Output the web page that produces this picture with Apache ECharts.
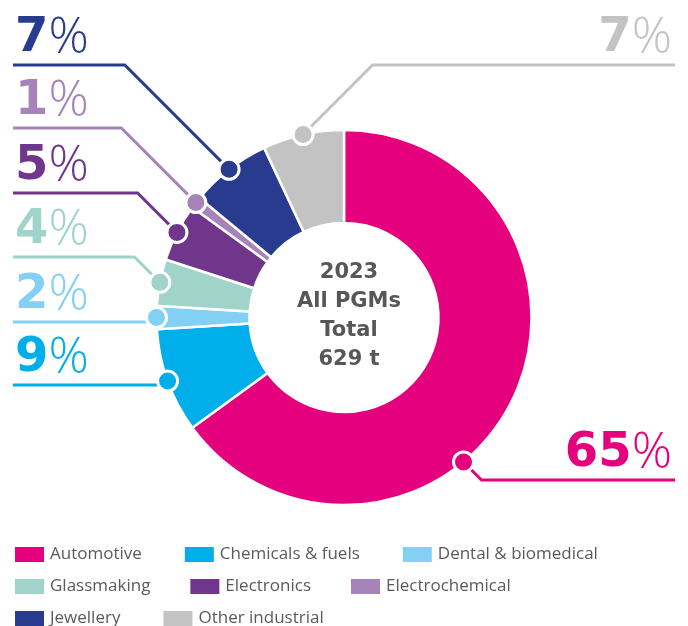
<!DOCTYPE html>
<html>
<head>
<meta charset="utf-8">
<script src="https://cdn.jsdelivr.net/npm/echarts@6/dist/echarts.min.js"></script>
<style>
html, body { margin: 0; padding: 0; background: #fff; }
#pgm-chart { width: 688px; height: 626px; }
</style>
</head>
<body>
<div id="pgm-chart"></div>
<script>
// 2023 PGM demand by application
var categories = ['Automotive', 'Chemicals & fuels', 'Dental & biomedical', 'Glassmaking',
	'Electronics', 'Electrochemical', 'Jewellery', 'Other industrial'];
var shares = [65, 9, 2, 4, 5, 1, 7, 7];
var colors = ['#e5007d', '#00aee9', '#83d0f5', '#a0d4cb', '#6f368b', '#a684ba', '#283b8f', '#c3c3c3'];
var centerLines = ['2023', 'All PGMs', 'Total', '629 t'];

// layout
var CX = 344, CY = 317.5, R_IN = 94.5, R_OUT = 187.5;
var lineY = [480, 385, 322, 257, 193, 128, 65, 65];
var side = ['right', 'left', 'left', 'left', 'left', 'left', 'left', 'right'];
var dotFrac = [0.6, 0.5, 0.5, 0.5, 0.5, 0.5, 0.5, 0.5];
var LEFT_X = 13, RIGHT_X = 675;

var total = shares.reduce(function (a, b) { return a + b; }, 0);

function anchorPct(i) {
	var before = 0;
	for (var k = 0; k < i; k++) before += shares[k];
	return (before + shares[i] * dotFrac[i]) / total * 100;
}

function anchorXY(i) {
	var a = anchorPct(i) / 100 * Math.PI * 2;
	return [CX + R_OUT * Math.sin(a), CY - R_OUT * Math.cos(a)];
}

var rich = {};
colors.forEach(function (c, i) {
	rich['d' + i] = { fontFamily: 'DejaVu Sans', fontSize: 48, fontWeight: 'bold', color: c };
	rich['p' + i] = { fontFamily: 'Open Sans', fontSize: 50, fontWeight: 300, color: c };
});

var pieData = categories.map(function (name, i) {
	return { name: name, value: shares[i], itemStyle: { color: colors[i] } };
});

var dotData = categories.map(function (name, i) {
	return { name: name, value: [1, anchorPct(i)], itemStyle: { color: colors[i] } };
});

function legendRow(names, top, gap) {
	return {
		data: names,
		left: 13,
		top: top,
		padding: 0,
		icon: 'rect',
		itemWidth: 31,
		itemHeight: 17,
		itemGap: gap,
		selectedMode: false,
		textStyle: { fontFamily: 'Open Sans', fontSize: 17, color: '#5a5a5a' }
	};
}

var chart = echarts.init(document.getElementById('pgm-chart'));
var option = {
	animation: false,
	title: {
		text: centerLines.join('\n'),
		left: CX,
		top: 253,
		textAlign: 'center',
		textStyle: { fontFamily: 'DejaVu Sans', fontSize: 21, fontWeight: 'bold', color: '#575757', lineHeight: 29 }
	},
	legend: [
		legendRow(categories.slice(0, 3), 545, 41),
		legendRow(categories.slice(3, 6), 577, 38),
		legendRow(categories.slice(6, 8), 609, 41)
	],
	polar: { center: [CX, CY], radius: R_OUT },
	angleAxis: { type: 'value', min: 0, max: 100, startAngle: 90, clockwise: true, show: false },
	radiusAxis: { type: 'value', min: 0, max: 1, show: false },
	series: [
		{
			name: 'PGM demand',
			type: 'pie',
			center: [CX, CY],
			radius: [R_IN, R_OUT],
			startAngle: 90,
			avoidLabelOverlap: false,
			silent: true,
			itemStyle: { borderColor: '#fff', borderWidth: 2.5 },
			label: {
				show: true,
				position: 'outside',
				formatter: function (p) {
					return '{d' + p.dataIndex + '|' + p.value + '}{p' + p.dataIndex + '|%}';
				},
				rich: rich
			},
			labelLine: { show: true, length: 10, length2: 10, smooth: false, lineStyle: { width: 3 } },
			labelLayout: function (params) {
				var i = params.dataIndex;
				var d = anchorXY(i);
				var y = lineY[i];
				var dy = Math.abs(d[1] - y);
				var left = side[i] === 'left';
				var elbow = [left ? d[0] - dy : d[0] + dy, y];
				return {
					x: left ? 15 : 672,
					y: y - 26,
					align: left ? 'left' : 'right',
					verticalAlign: 'middle',
					labelLinePoints: [d, elbow, [left ? LEFT_X : RIGHT_X, y]]
				};
			},
			data: pieData
		},
		{
			type: 'scatter',
			coordinateSystem: 'polar',
			symbol: 'circle',
			symbolSize: 20,
			z: 10,
			silent: true,
			itemStyle: { borderColor: '#fff', borderWidth: 3, opacity: 1 },
			data: dotData
		}
	]
};
chart.setOption(option);
</script>
</body>
</html>
